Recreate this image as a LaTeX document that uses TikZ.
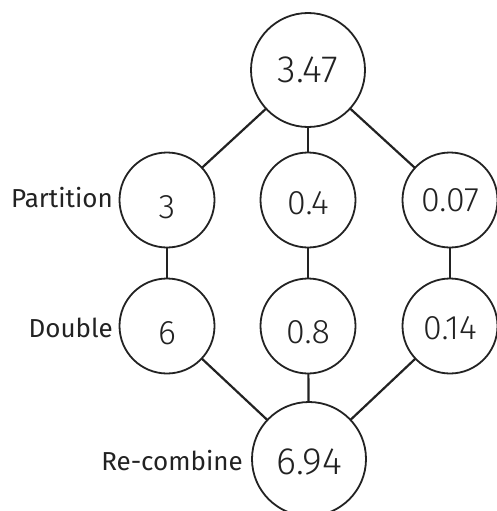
\documentclass[tikz,border=0pt]{standalone}
\usepackage{fontspec}
\setmainfont{Fira Sans}
\newfontfamily\numfont{Fira Sans Light}
\definecolor{ink}{HTML}{222222}
\newcommand{\lowr}[2]{\raisebox{-#1}[\height][0pt]{#2}}
\begin{document}
\begin{tikzpicture}[x=1pt,y=-1pt,
  bubble/.style={circle,draw=ink,line width=1.8pt,minimum size=95pt,inner sep=0pt,outer sep=0pt,
     font=\numfont\fontsize{34}{34}\selectfont,text=ink},
  bigbubble/.style={bubble,minimum size=114pt,font=\numfont\fontsize{38}{38}\selectfont},
  link/.style={draw=ink,line width=2.2pt},
  lab/.style={font=\fontsize{26}{26}\selectfont,text=ink,inner sep=0pt,anchor=base east}]
\useasboundingbox (0,0) rectangle (496,511);
\node[bigbubble] (top) at (308,70) {3.47};
\node[bubble] (p1) at (167,200) {\lowr{7pt}{3}};
\node[bubble] (p2) at (308,200) {\lowr{3pt}{0.4}};
\node[bubble] (p3) at (450,200) {\lowr{0pt}{0.07}};
\node[bubble] (d1) at (167,326) {\lowr{7pt}{6}};
\node[bubble] (d2) at (308,326) {\lowr{6pt}{0.8}};
\node[bubble] (d3) at (450,326) {\lowr{2pt}{0.14}};
\node[bigbubble] (bot) at (309,459) {\lowr{3pt}{6.94}};
\draw[link] (top) -- (p1);
\draw[link] (top) -- (p2);
\draw[link] (top) -- (p3);
\draw[link] (p1) -- (d1);
\draw[link] (p2) -- (d2);
\draw[link] (p3) -- (d3);
\draw[link] (d1) -- (bot);
\draw[link] (d2) -- (bot);
\draw[link] (d3) -- (bot);
\node[lab] (lp) at (113,207) {Partition};
\node[lab] (ld) at (113,337) {Double};
\node[lab] (lr) at (243,470) {Re-combine};
\end{tikzpicture}
\end{document}
